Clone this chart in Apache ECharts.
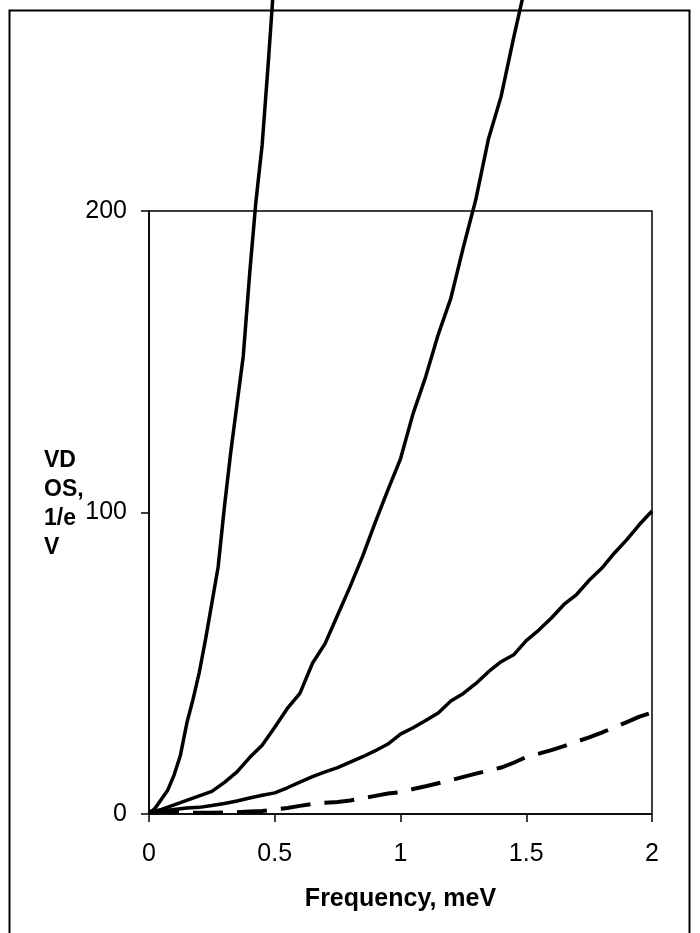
<!DOCTYPE html>
<html>
<head>
<meta charset="utf-8">
<script src="https://cdn.jsdelivr.net/npm/echarts@6/dist/echarts.min.js"></script>
<style>
  html, body { margin: 0; padding: 0; background: #fff; }
  #chart { width: 700px; height: 933px; }
</style>
</head>
<body>
<div id="chart"></div>
<script>
// frequency grids, meV
const freqFine = [0, 0.025, 0.05, 0.075, 0.1, 0.125, 0.15, 0.175, 0.2, 0.225, 0.25,
  0.275, 0.3, 0.325, 0.35, 0.375, 0.4, 0.425, 0.45, 0.475, 0.5]
const freq = [0, 0.05, 0.1, 0.15, 0.2, 0.25, 0.3, 0.35, 0.4, 0.45, 0.5,
  0.55, 0.6, 0.65, 0.7, 0.75, 0.8, 0.85, 0.9, 0.95, 1,
  1.05, 1.1, 1.15, 1.2, 1.25, 1.3, 1.35, 1.4, 1.45, 1.5,
  1.55, 1.6, 1.65, 1.7, 1.75, 1.8, 1.85, 1.9, 1.95, 2]

// VDOS, 1/eV
const vdos1 = [0, 2, 5, 8, 13, 19.5, 30, 38, 47, 58, 70,
  82, 102, 120, 136, 152, 179, 203, 222, 250, 280]
const vdos2 = [0.5, 1.5, 3, 4.5, 6, 7.5, 10.5, 14, 18.7, 22.8, 28.8,
  35, 40, 50, 56.5, 66, 75.5, 85.6, 96.8, 107.5, 117.8,
  132.8, 145, 159, 171, 188, 204, 224, 238, 257.5, 276]
const vdos3 = [0.5, 1, 1.5, 2, 2.2, 2.8, 3.5, 4.3, 5.3, 6.2, 7,
  8.7, 10.6, 12.4, 14, 15.4, 17.2, 19, 21, 23.2, 26.5,
  28.6, 31, 33.5, 37.5, 40, 43.3, 47.2, 50.5, 52.8, 57.5,
  61, 65, 69.5, 72.8, 77.5, 81.5, 86.5, 91, 96, 100.5]
const vdos4 = [0.8, 0.8, 0.7, 0.5, 0.4, 0.4, 0.5, 0.6, 0.8, 1, 1.5,
  2, 2.7, 3.3, 3.7, 4, 4.5, 5.2, 6, 6.8, 7.2,
  8.3, 9.2, 10.2, 11.2, 12.3, 13.4, 14.4, 15.4, 17, 18.9,
  20, 21.2, 22.5, 24, 25.4, 27, 28.7, 30.5, 32.3, 33.6]

const xTicks = [0, 0.5, 1, 1.5, 2]
const yTicks = [0, 100, 200]

const font = 'Liberation Sans'

function pairs(xs, ys) {
  return ys.map((y, i) => [xs[i], y])
}

function curve(data, dashed) {
  return {
    type: 'line',
    data: data,
    symbol: 'none',
    clip: false,
    lineStyle: {
      color: '#000',
      width: dashed ? 4 : 3.5,
      type: dashed ? [30, 14] : 'solid'
    }
  }
}

const chart = echarts.init(document.getElementById('chart'))
chart.setOption({
  animation: false,
  backgroundColor: '#fff',
  title: {
    text: 'VD\nOS,\n1/e\nV',
    left: 39,
    top: 441,
    textStyle: {
      fontFamily: font,
      fontWeight: 'bold',
      fontSize: 23,
      lineHeight: 29,
      color: '#000'
    }
  },
  graphic: [{
    type: 'rect',
    shape: { x: 9.5, y: 10.5, width: 680, height: 940 },
    style: { fill: null, stroke: '#000', lineWidth: 2 },
    silent: true
  }],
  grid: {
    left: 149,
    top: 211,
    right: 48,
    bottom: 119,
    show: true,
    borderColor: '#000',
    borderWidth: 1.5
  },
  xAxis: {
    type: 'value',
    min: xTicks[0],
    max: xTicks[xTicks.length - 1],
    interval: 0.5,
    name: 'Frequency, meV',
    nameLocation: 'middle',
    nameGap: 73,
    nameTextStyle: {
      fontFamily: font,
      fontWeight: 'bold',
      fontSize: 25,
      color: '#000'
    },
    axisLine: { lineStyle: { color: '#000', width: 1.5 } },
    axisTick: { inside: false, length: 8, lineStyle: { color: '#000', width: 1.5 } },
    axisLabel: { margin: 28, fontFamily: font, fontSize: 25, color: '#000' },
    splitLine: { show: false }
  },
  yAxis: {
    type: 'value',
    min: yTicks[0],
    max: yTicks[yTicks.length - 1],
    interval: 100,
    axisLine: { show: true, lineStyle: { color: '#000', width: 1.5 } },
    axisTick: { show: true, inside: false, length: 8, lineStyle: { color: '#000', width: 1.5 } },
    axisLabel: { margin: 22, fontFamily: font, fontSize: 25, color: '#000' },
    splitLine: { show: false }
  },
  series: [
    curve(pairs(freqFine, vdos1)),
    curve(pairs(freq, vdos2)),
    curve(pairs(freq, vdos3)),
    curve(pairs(freq, vdos4), true)
  ]
})
</script>
</body>
</html>
